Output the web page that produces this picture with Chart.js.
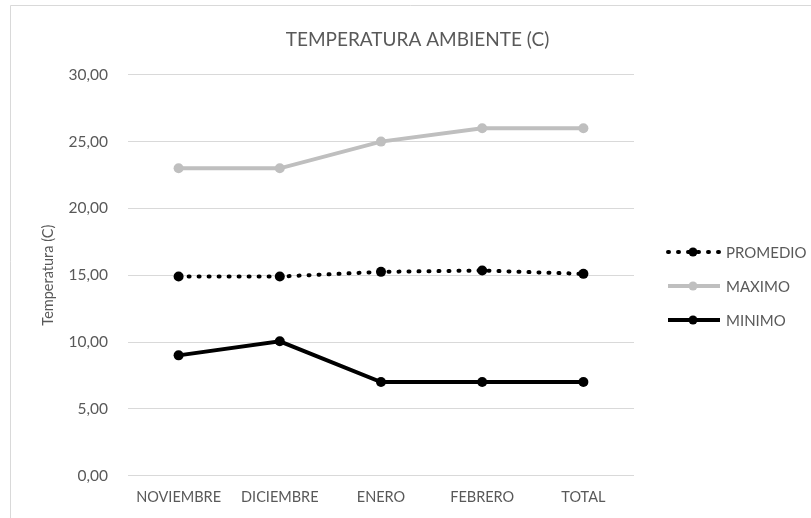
<!DOCTYPE html>
<html>
<head>
<meta charset="utf-8">
<script src="https://cdn.jsdelivr.net/npm/chart.js@4/dist/chart.umd.min.js"></script>
<style>
  body { margin: 0; background: #fff; }
  #chart { display: block; }
</style>
</head>
<body>
<canvas id="chart" width="811" height="518"></canvas>
<script>
// datos
const meses = ['NOVIEMBRE', 'DICIEMBRE', 'ENERO', 'FEBRERO', 'TOTAL'];
const promedio = [14.9, 14.9, 15.25, 15.35, 15.1];
const maximo = [23, 23, 25, 26, 26];
const minimo = [9, 10.05, 7, 7, 7];

const gris = '#595959';
const fuente = 'Lato, "Open Sans", sans-serif';

// marco del grafico (solo borde izquierdo y superior quedan en la imagen)
const marco = {
    id: 'marco',
    afterDraw(chart) {
        const ctx = chart.ctx;
        ctx.save();
        ctx.strokeStyle = '#d9d9d9';
        ctx.lineWidth = 1;
        ctx.beginPath();
        ctx.moveTo(10.5, 518);
        ctx.lineTo(10.5, 5.5);
        ctx.lineTo(811, 5.5);
        ctx.stroke();
        ctx.restore();
    }
};

// leyenda a la derecha, estilo Excel (linea con marcador y texto)
const leyenda = {
    id: 'leyenda',
    afterDraw(chart) {
        const ctx = chart.ctx;
        const area = chart.chartArea;
        const x0 = area.right + 32;
        const largo = 54;
        chart.data.datasets.forEach((ds, i) => {
            const y = 252 + i * 34;
            ctx.save();
            ctx.strokeStyle = ds.borderColor;
            ctx.lineWidth = ds.borderWidth;
            ctx.lineCap = ds.borderCapStyle || 'butt';
            ctx.setLineDash(ds.borderDash || []);
            ctx.beginPath();
            ctx.moveTo(x0 + 2, y);
            ctx.lineTo(x0 + largo, y);
            ctx.stroke();
            ctx.setLineDash([]);
            ctx.fillStyle = ds.borderColor;
            ctx.beginPath();
            ctx.arc(x0 + largo / 2, y, 4.5, 0, Math.PI * 2);
            ctx.fill();
            ctx.fillStyle = gris;
            ctx.font = '15px ' + fuente;
            ctx.textBaseline = 'middle';
            ctx.fillText(ds.label, x0 + largo + 6, y + 1);
            ctx.restore();
        });
    }
};

new Chart(document.getElementById('chart'), {
    type: 'line',
    data: {
        labels: meses,
        datasets: [
            {
                label: 'PROMEDIO',
                data: promedio,
                borderColor: '#000000',
                backgroundColor: '#000000',
                borderWidth: 4,
                borderDash: [1, 9],
                borderCapStyle: 'round',
                pointRadius: 5,
                pointBorderWidth: 0
            },
            {
                label: 'MAXIMO',
                data: maximo,
                borderColor: '#bfbfbf',
                backgroundColor: '#bfbfbf',
                borderWidth: 4,
                pointRadius: 5,
                pointBorderWidth: 0
            },
            {
                label: 'MINIMO',
                data: minimo,
                borderColor: '#000000',
                backgroundColor: '#000000',
                borderWidth: 4,
                pointRadius: 5,
                pointBorderWidth: 0
            }
        ]
    },
    options: {
        responsive: false,
        animation: false,
        layout: { padding: { left: 24, right: 0, top: 24, bottom: 7 } },
        scales: {
            x: {
                offset: true,
                grid: { display: false },
                border: { display: false },
                ticks: { color: gris, font: { family: fuente, size: 14.5 }, padding: 5, maxRotation: 0 }
            },
            y: {
                min: 0,
                max: 30,
                border: { display: false },
                grid: { color: '#d9d9d9', lineWidth: 1, drawTicks: false },
                ticks: {
                    stepSize: 5,
                    color: gris,
                    padding: 20,
                    font: { family: fuente, size: 15.5 },
                    callback: v => v.toFixed(2).replace('.', ',')
                },
                title: { display: true, text: 'Temperatura (C)', color: gris, font: { family: fuente, size: 14.5 }, padding: 16 },
                afterFit(scale) { scale.width = 104; }
            },
            // eje vacio que reserva el espacio de la leyenda
            espacio: {
                position: 'right',
                display: true,
                grid: { display: false },
                border: { display: false },
                ticks: { display: false },
                afterFit(scale) { scale.width = 177; }
            }
        },
        plugins: {
            title: {
                display: true,
                text: 'TEMPERATURA AMBIENTE (C)',
                color: gris,
                font: { family: fuente, size: 19, weight: 'normal' },
                padding: { top: 4, bottom: 24 }
            },
            legend: { display: false },
            tooltip: { enabled: false }
        }
    },
    plugins: [marco, leyenda]
});
</script>
</body>
</html>
